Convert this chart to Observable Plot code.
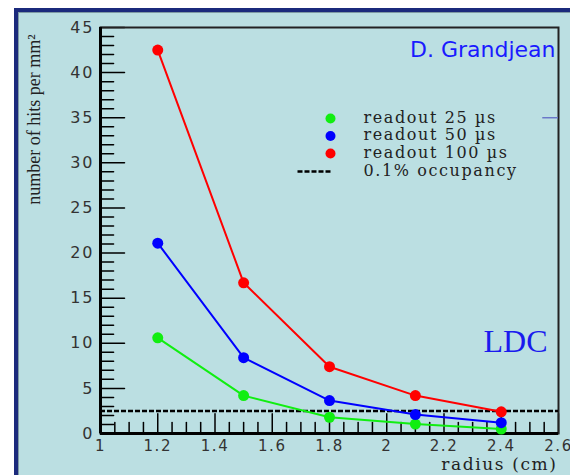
<!DOCTYPE html>
<html><head><meta charset="utf-8">
<script src="https://cdn.jsdelivr.net/npm/d3@7"></script>
<script src="https://cdn.jsdelivr.net/npm/@observablehq/plot@0.6"></script>
<style>
html,body{margin:0;padding:0;background:#fff;}
#wrap{position:relative;width:570px;height:475px;overflow:hidden;}
#panel{position:absolute;left:14px;top:8px;width:600px;height:520px;background:#bbdfe2;border-left:4px solid #1b2a7c;border-top:4px solid #1b2a7c;box-shadow:inset 1px 1px 0 #7e9aa4;}
#chart{position:absolute;left:0;top:0;}
</style></head><body>
<div id="wrap"><div id="panel"></div><div id="chart"></div></div>
<script>
// data
const radius = [1.2, 1.5, 1.8, 2.1, 2.4];
const readout25 = [10.6, 4.2, 1.8, 1.05, 0.5];
const readout50 = [21.1, 8.4, 3.65, 2.1, 1.2];
const readout100 = [42.5, 16.7, 7.4, 4.2, 2.4];
const occupancyLimit = 2.5;
const seriesNames = ["readout 25 \u00b5s", "readout 50 \u00b5s", "readout 100 \u00b5s"];
const seriesColors = ["#11ee11", "#0000ff", "#ff0000"];
const occupancyName = "0.1% occupancy";
const xTickLabels = [1, 1.2, 1.4, 1.6, 1.8, 2, 2.2, 2.4, 2.6];
const xMinorTicks = d3.range(0, 33).map(i => +(1 + i * 0.05).toFixed(2));
const yTickLabels = [0, 5, 10, 15, 20, 25, 30, 35, 40, 45];
const yMinorTicks = d3.range(0, 46);
const strayMarkY = 35;

const seriesValues = [readout25, readout50, readout100];
const rows = [];
seriesValues.forEach((vals, s) => vals.forEach((v, i) => rows.push({series: seriesNames[s], r: radius[i], n: v})));

const tickShape = {draw(ctx, l) { ctx.moveTo(0, 0); ctx.lineTo(0, -l); }};
const dashShape = {draw(ctx, l) { for (let p = 0; p < l; p += 7) { ctx.moveTo(0, -p); ctx.lineTo(0, -Math.min(p + 5, l)); } }};
const serif = "DejaVu Serif";
const sans = "DejaVu Sans";

const legendMarks = [];
seriesNames.forEach((name, i) => {
  legendMarks.push(Plot.dot([name], {frameAnchor: "top-left", dx: 230, dy: 91 + i * 17.5, r: 5, fill: seriesColors[i], stroke: null}));
  legendMarks.push(Plot.text([name], {frameAnchor: "top-left", dx: 263, dy: 90 + i * 17.5, text: d => d, textAnchor: "start", lineAnchor: "middle", fontFamily: serif, fontSize: 16, fill: "#222"}));
});
legendMarks.push(Plot.vector([occupancyName], {frameAnchor: "top-left", dx: 197, dy: 144, length: 33, rotate: 90, anchor: "start", shape: dashShape, stroke: "#000", strokeWidth: 2.5, strokeLinecap: "butt"}));
legendMarks.push(Plot.text([occupancyName], {frameAnchor: "top-left", dx: 263, dy: 143, text: d => d, textAnchor: "start", lineAnchor: "middle", fontFamily: serif, fontSize: 16, fill: "#222"}));

const chart = Plot.plot({
  width: 570, height: 475,
  marginLeft: 100, marginTop: 27, marginRight: 12, marginBottom: 42,
  style: {background: "transparent", overflow: "visible"},
  x: {domain: [1, 2.6]},
  y: {domain: [0, 45]},
  color: {domain: seriesNames, range: seriesColors},
  marks: [
    // tick labels
    Plot.axisX({ticks: xTickLabels, tickSize: 0, tickPadding: 7, tickFormat: d => String(+d.toFixed(1)), fontFamily: sans, fontSize: 15, fill: "#333", label: null}),
    Plot.axisY({ticks: yTickLabels, tickSize: 0, tickPadding: 6, tickFormat: d => String(d), fontFamily: sans, fontSize: 16, fill: "#333", label: null}),
    // inward ticks
    Plot.vector(xMinorTicks, {x: d => d, y: 0, length: d => (Math.abs(d * 5 - Math.round(d * 5)) < 1e-6 ? 9 : 5), rotate: 0, anchor: "start", shape: tickShape, stroke: "#000", strokeWidth: 1.5}),
    Plot.vector(yMinorTicks, {x: 1, y: d => d, length: d => (d % 5 === 0 ? 11 : 6), rotate: 90, anchor: "start", shape: tickShape, stroke: "#000", strokeWidth: 1.5}),
    // frame
    Plot.frame({stroke: "#222", strokeWidth: 2}),
    Plot.ruleX([1], {stroke: "#000", strokeWidth: 3}),
    Plot.ruleY([0], {stroke: "#000", strokeWidth: 3}),
    // occupancy line
    Plot.ruleY([occupancyLimit], {stroke: "#000", strokeWidth: 2.5, strokeDasharray: "5,2"}),
    // stray mark
    Plot.ruleY([strayMarkY], {x1: 2.545, x2: 2.6, stroke: "#6a78c8", strokeWidth: 1.5}),
    // series
    Plot.line(rows, {x: "r", y: "n", z: "series", stroke: "series", strokeWidth: 2}),
    Plot.dot(rows, {x: "r", y: "n", fill: "series", r: 5.5, stroke: null}),
    // texts
    Plot.text(["D. Grandjean"], {frameAnchor: "top-right", dx: -3, dy: 22, text: d => d, textAnchor: "end", lineAnchor: "middle", fontFamily: sans, fontSize: 22, fill: "#1a1aff"}),
    Plot.text(["LDC"], {frameAnchor: "bottom-right", dx: -11, dy: -92, text: d => d, textAnchor: "end", lineAnchor: "middle", fontFamily: "Liberation Serif", fontSize: 32, fill: "#1a1aee"}),
    Plot.text(["radius (cm)"], {frameAnchor: "bottom-right", dx: -1, dy: 31, text: d => d, textAnchor: "end", lineAnchor: "middle", fontFamily: serif, fontSize: 17, fill: "#222"}),
    Plot.text(["number of hits per mm\u00b2"], {frameAnchor: "top-left", dx: -66, dy: 92, rotate: -90, text: d => d, textAnchor: "middle", lineAnchor: "middle", fontFamily: "Liberation Serif", fontSize: 18, fill: "#222"}),
    ...legendMarks
  ]
});
const svg = d3.select(chart);
svg.selectAll('g[aria-label="x-axis tick label"] text').attr("letter-spacing", "1.5px");
svg.selectAll('g[aria-label="y-axis tick label"] text').attr("letter-spacing", "2px");
svg.selectAll('g[font-family="DejaVu Serif"] text').attr("letter-spacing", "1.6px");
document.getElementById("chart").appendChild(chart);
</script>
</body></html>
